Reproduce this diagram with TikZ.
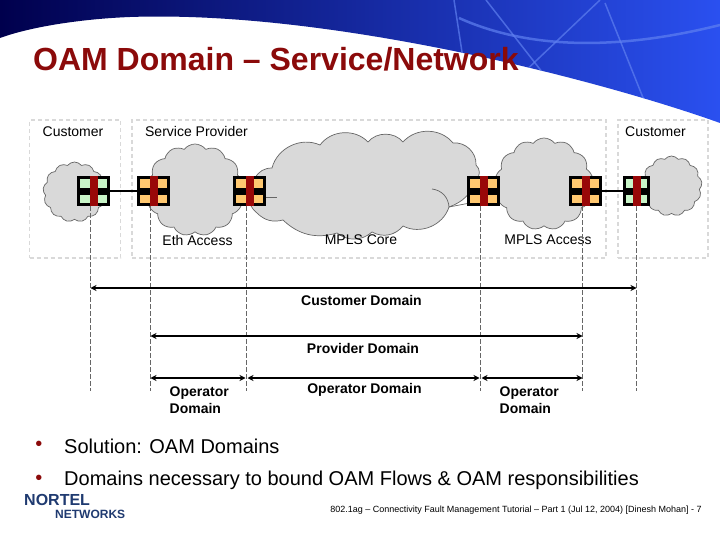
\documentclass[tikz,border=0pt]{standalone}
\usepackage{fontspec}
\setmainfont{Liberation Sans}
\usepackage{xcolor}
\usetikzlibrary{arrows.meta,positioning,shapes.symbols}
\definecolor{titlered}{HTML}{8B0A0A}
\definecolor{barred}{HTML}{990808}
\definecolor{meporange}{HTML}{FFC870}
\definecolor{mepgreen}{HTML}{C8F5C8}
\definecolor{cloudgray}{HTML}{D9D9D9}
\definecolor{logoblue}{HTML}{1F3A70}
\definecolor{navyleft}{HTML}{00004D}
\definecolor{bluemid}{HTML}{0010C8}
\definecolor{blueright}{HTML}{2A50F0}
\definecolor{arcblue}{HTML}{5F80F0}

\tikzset{
  areabox/.style={draw=black!15, line width=1.4pt, dash pattern=on 4pt off 3pt},
  netcloud/.style={cloud, cloud puffs=#1, cloud puff arc=105, draw=black!60, fill=cloudgray, inner sep=0pt, line width=.7pt},
  coreline/.style={draw=black!60, line width=.7pt},
  mepbox/.style={minimum height=30pt, inner sep=0pt, fill=black, path picture={
      \fill[#1] ([shift={(3pt,3pt)}]path picture bounding box.south west) rectangle
        ([shift={(-3pt,-3pt)}]path picture bounding box.north east);
      \fill[black] ([yshift=-4pt]path picture bounding box.west) rectangle ([yshift=3pt]path picture bounding box.east);
      \fill[barred] ([xshift=-4pt]path picture bounding box.south) rectangle ([xshift=4pt]path picture bounding box.north);}},
  lbl/.style={font=\fontsize{14}{16}\selectfont, align=left, inner sep=0pt},
  domlbl/.style={font=\fontsize{14}{17}\selectfont\bfseries, align=left, inner sep=0pt},
  bullettext/.style={font=\fontsize{20}{22}\selectfont, inner sep=0pt},
  guide/.style={draw=black!60, dash pattern=on 5pt off 2pt, line width=.6pt},
  span/.style={{Stealth[length=6pt,width=6pt]}-{Stealth[length=6pt,width=6pt]}, line width=1.5pt},
}

\begin{document}
\begin{tikzpicture}[x=1pt, y=-1pt]
  \useasboundingbox (0,0) rectangle (720,540);

  % header
  \path[shade, left color=navyleft, middle color=bluemid, right color=blueright]
    (0,0) -- (720,0) -- (720,123) .. controls (600,80) and (330,10) .. (130,17)
    .. controls (80,19) and (30,27) .. (0,38) -- cycle;
  \begin{scope}
    \clip (0,0) -- (720,0) -- (720,123) .. controls (600,80) and (330,10) .. (130,17)
    .. controls (80,19) and (30,27) .. (0,38) -- cycle;
    \draw[arcblue, line width=1.5pt, opacity=.7] (454,0) -- (464,65);
    \draw[arcblue, line width=1.5pt, opacity=.7] (486,0) -- (560,95);
    \draw[arcblue, line width=1.5pt, opacity=.7] (600,0) -- (518,78);
    \draw[arcblue, line width=1.5pt, opacity=.7] (605,3) -- (660,140);
    \draw[arcblue, line width=2.5pt, opacity=.7] (459,18) .. controls (530,50) and (620,50) .. (720,25);
  \end{scope}
  \node[font=\fontsize{32}{36}\selectfont\bfseries, text=titlered, anchor=west, inner sep=0pt] (title) at (33,59) {OAM Domain – Service/Network};

  % dashed areas
  \node[areabox, minimum width=91pt, minimum height=138pt] (custL) at (75,189) {};
  \node[areabox, minimum width=474pt, minimum height=138pt] (prov) at (369,189) {};
  \node[areabox, minimum width=90pt, minimum height=138pt] (custR) at (663,189) {};
  \node[lbl] (custLt) at (73,132) {Customer};
  \node[lbl] (provt) at (196.5,131.5) {Service Provider};
  \node[lbl] (custRt) at (655.5,132) {Customer};

  % clouds
  \node[netcloud=13, minimum width=63pt, minimum height=60pt] (cl1) at (74.5,192) {};
  \node[netcloud=13, minimum width=98pt, minimum height=92pt] (cl2) at (195,190) {};
  \path[coreline, fill=cloudgray] (272,168) to[bend left=50] (320,145) to[bend left=50] (368,142)
    to[bend left=50] (403,142) to[bend left=50] (453,143) to[bend left=50] (476,165)
    to[bend left=50] (476,180) to[bend left=25] (449,207) to[bend left=50] (403,226)
    to[bend left=40] (372,232) to[bend left=40] (337,233) to[bend left=30] (283,220)
    to[bend left=30] (257,213) to[bend left=50] (255,178) to[bend left=30] (272,168) -- cycle;
  \draw[coreline] (432,189) to[bend left=40] (449,207) -- (470,203);
  \draw[coreline] (262,197) -- (277,197);
  \node[netcloud=13, minimum width=98pt, minimum height=92pt] (cl5) at (544,184) {};
  \node[netcloud=13, minimum width=61pt, minimum height=60pt] (cl6) at (671.5,186) {};
  \node[lbl] (ethl) at (197.5,240) {Eth Access};
  \node[lbl] (corel) at (361,240) {MPLS Core};
  \node[lbl] (accl) at (548,240) {MPLS Access};

  % MEP boxes
  \node[mepbox=mepgreen, minimum width=33pt] (m1) at (93.5,191) {};
  \node[mepbox=meporange, minimum width=33pt] (m2) at (153.5,191) {};
  \node[mepbox=meporange, minimum width=33pt] (m3) at (249.5,191) {};
  \node[mepbox=meporange, minimum width=33pt] (m4) at (483.5,191) {};
  \node[mepbox=meporange, minimum width=33pt] (m5) at (585.5,191) {};
  \node[mepbox=mepgreen, minimum width=27pt] (m6) at (636.5,191) {};
  \draw[line width=2.6pt] (m1) -- (m2);
  \draw[line width=2.6pt] (m5) -- (m6);

  % guides
  \coordinate (g1) at (90.5,390.5);
  \coordinate (g2) at (150.5,390.5);
  \coordinate (g3) at (246.5,390.5);
  \coordinate (g4) at (480.5,390.5);
  \coordinate (g5) at (582.5,390.5);
  \coordinate (g6) at (636.5,390.5);
  \draw[guide] (g1 |- m1.south) -- (g1);
  \draw[guide] (g2 |- m2.south) -- (g2);
  \draw[guide] (g3 |- m3.south) -- (g3);
  \draw[guide] (g4 |- m4.south) -- (g4);
  \draw[guide] (g5 |- m5.south) -- (g5);
  \draw[guide] (g6 |- m6.south) -- (g6);

  % domains
  \coordinate (y1) at (0,288);
  \coordinate (y2) at (0,336);
  \coordinate (y3) at (0,378);
  \draw[span] (g1 |- y1) -- (g6 |- y1);
  \draw[span] (g2 |- y2) -- (g5 |- y2);
  \draw[span] (g2 |- y3) -- ([xshift=-1pt]g3 |- y3);
  \draw[span] ([xshift=1pt]g3 |- y3) -- ([xshift=-1pt]g4 |- y3);
  \draw[span] ([xshift=1pt]g4 |- y3) -- (g5 |- y3);
  \node[domlbl] (cd) at (361.5,300) {Customer Domain};
  \node[domlbl] (pd) at (363,348) {Provider Domain};
  \node[domlbl, anchor=north west] (od1) at (169.5,386.5) {Operator\\Domain};
  \node[domlbl] (od2) at (364.5,390) {Operator Domain};
  \node[domlbl, anchor=north west] (od3) at (499.5,386.5) {Operator\\Domain};

  % bullets
  \node[bullettext, text=titlered] (b1) at (39,446) {•};
  \node[bullettext, anchor=west] (t1) at (64,446) {Solution: OAM Domains};
  \node[bullettext, text=titlered] (b2) at (39,480) {•};
  \node[bullettext, anchor=west] (t2) at (64,480) {Domains necessary to bound OAM Flows \& OAM responsibilities};

  % logo and footer
  \node[font=\fontsize{16}{16}\selectfont\bfseries, text=logoblue, anchor=west, inner sep=0pt] (logo1) at (24,500) {NORTEL};
  \node[font=\fontsize{12}{12}\selectfont\bfseries, text=logoblue, anchor=west, inner sep=0pt] (logo2) at (55,514) {NETWORKS};
  \node[font=\fontsize{9}{10}\selectfont, anchor=east, inner sep=0pt] (foot) at (702,510) {802.1ag – Connectivity Fault Management Tutorial – Part 1 (Jul 12, 2004) [Dinesh Mohan] - 7};
\end{tikzpicture}
\end{document}
